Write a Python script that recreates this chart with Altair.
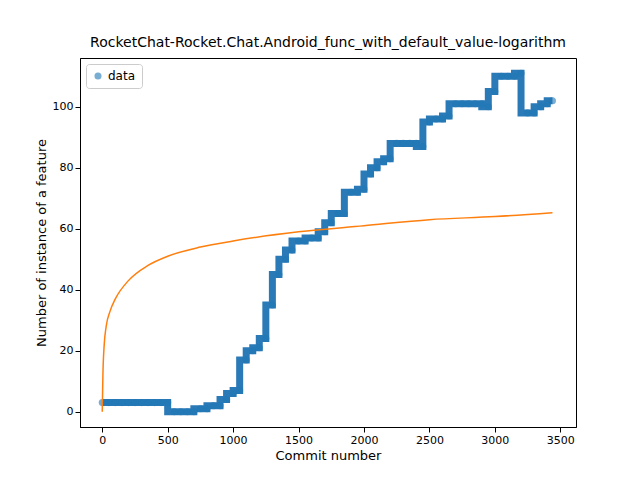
import altair as alt
import pandas as pd

# scatter data (step-like feature counts)
commit = [0, 50, 100, 150, 200, 250, 300, 350, 400, 450, 500,
          550, 600, 650, 700, 750, 800, 850, 900, 950, 1000,
          1050, 1100, 1150, 1200, 1250, 1300, 1350, 1400, 1450, 1500,
          1550, 1600, 1650, 1700, 1750, 1800, 1850, 1900, 1950, 2000,
          2050, 2100, 2150, 2200, 2250, 2300, 2350, 2400, 2450, 2500,
          2550, 2600, 2650, 2700, 2750, 2800, 2850, 2900, 2950, 3000,
          3050, 3100, 3150, 3200, 3250, 3300, 3350, 3400, 3440]
count = [3, 3, 3, 3, 3, 3, 3, 3, 3, 3, 3,
         0, 0, 0, 0, 1, 1, 2, 2, 4, 6,
         7, 17, 20, 21, 24, 35, 45, 50, 53, 56,
         56, 57, 57, 59, 62, 65, 65, 72, 72, 73,
         78, 80, 82, 83, 88, 88, 88, 88, 87, 95,
         96, 96, 97, 101, 101, 101, 101, 101, 100, 105,
         110, 110, 110, 111, 98, 98, 100, 101, 102]

# logarithmic fit curve
fit_x = [0, 5, 15, 30, 60, 100, 200, 350, 500, 750, 1000, 1500, 2000, 2500, 3000, 3440]
fit_y = [0, 12, 22, 28, 33, 37, 43, 48, 51, 54, 56, 59, 61, 63, 64, 65.3]

pts = pd.DataFrame({'commit': commit, 'count': count, 'series': 'data'})
fit = pd.DataFrame({'commit': fit_x, 'count': fit_y})

xs = alt.Scale(domain=[-170, 3620], nice=False, zero=False)
ys = alt.Scale(domain=[-5, 116], nice=False, zero=False)
xax = alt.Axis(values=list(range(0, 3501, 500)), format='d', title='Commit number', grid=False)
yax = alt.Axis(values=list(range(0, 101, 20)), format='d', title='Number of instance of a feature', grid=False)

band = alt.Chart(pts).mark_line(color='#2a7ab8', strokeWidth=7, interpolate='step-before').encode(
    x=alt.X('commit:Q', scale=xs, axis=xax),
    y=alt.Y('count:Q', scale=ys, axis=yax),
)

dots = alt.Chart(pts).mark_circle(size=50, opacity=0.6).encode(
    x=alt.X('commit:Q', scale=xs),
    y=alt.Y('count:Q', scale=ys),
    color=alt.Color('series:N', scale=alt.Scale(range=['#1f77b4']),
                    legend=alt.Legend(title=None, orient='top-left', offset=6, symbolType='circle',
                                      strokeColor='#cccccc', padding=6, cornerRadius=3,
                                      fillColor='white', labelFontSize=12, symbolSize=50)),
)

curve = alt.Chart(fit).mark_line(color='#ff7f0e', strokeWidth=1.5, interpolate='monotone').encode(
    x=alt.X('commit:Q', scale=xs),
    y=alt.Y('count:Q', scale=ys),
)

chart = (band + dots + curve).properties(
    width=496, height=369,
    autosize=alt.AutoSizeParams(type='none'),
    padding={'left': 72, 'top': 50, 'right': 56, 'bottom': 45},
    title=alt.Title('RocketChat-Rocket.Chat.Android_func_with_default_value-logarithm',
                    fontSize=14, fontWeight='normal', offset=8),
).configure(font='DejaVu Sans').configure_axis(
    labelFontSize=11, titleFontSize=13, titleFontWeight='normal',
    domainColor='black', tickColor='black', labelColor='black'
).configure_view(stroke='black')

chart.save("out.html", embed_options={"renderer": "svg", "actions": False})
